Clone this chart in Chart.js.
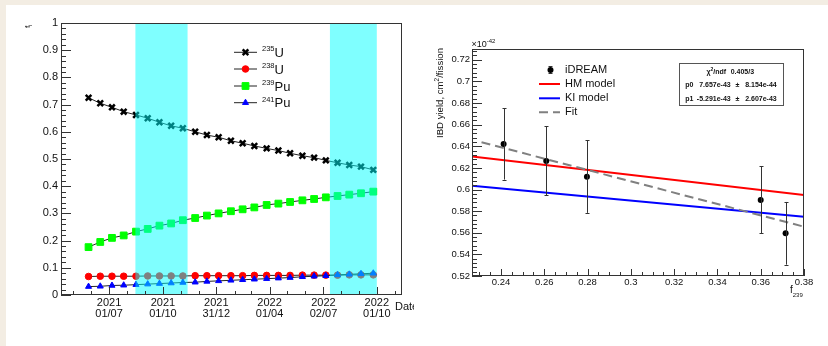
<!DOCTYPE html>
<html>
<head>
<meta charset="utf-8">
<script src="https://cdn.jsdelivr.net/npm/chart.js@4.4.1/dist/chart.umd.min.js"></script>
<style>
  body { margin: 0; background: #f3ede3; width: 828px; height: 346px; overflow: hidden; position: relative; }
  #card { position: absolute; left: 6px; top: 5px; width: 822px; height: 341px; background: #fff; }
  canvas { position: absolute; top: 0; }
  #fracChart { left: 0; }
  #yieldChart { left: 414px; }
</style>
</head>
<body>
<div id="card"></div>
<canvas id="fracChart" width="414" height="346"></canvas>
<canvas id="yieldChart" width="414" height="346"></canvas>
<script>
// ---- left panel: fission fractions vs date ----
const fracDates = ['2021-05-27','2021-06-16','2021-07-06','2021-07-26','2021-08-16','2021-09-05','2021-09-25',
  '2021-10-15','2021-11-04','2021-11-25','2021-12-15','2022-01-04','2022-01-25','2022-02-14','2022-03-06',
  '2022-03-27','2022-04-16','2022-05-06','2022-05-27','2022-06-16','2022-07-06','2022-07-26','2022-08-15',
  '2022-09-04','2022-09-25'];
const u235 = [0.725,0.705,0.690,0.674,0.662,0.650,0.635,0.622,0.613,0.600,0.588,0.580,0.567,0.558,0.548,
  0.539,0.531,0.521,0.512,0.505,0.495,0.486,0.478,0.472,0.460];
const u238 = [0.068,0.069,0.069,0.069,0.069,0.070,0.070,0.070,0.070,0.071,0.071,0.071,0.071,0.071,0.072,
  0.072,0.072,0.072,0.073,0.073,0.073,0.073,0.074,0.074,0.074];
const pu239 = [0.176,0.195,0.210,0.219,0.233,0.243,0.255,0.263,0.275,0.283,0.292,0.300,0.308,0.315,0.322,
  0.331,0.336,0.342,0.348,0.353,0.359,0.364,0.369,0.374,0.380];
const pu241 = [0.031,0.032,0.035,0.036,0.038,0.040,0.042,0.044,0.046,0.047,0.050,0.052,0.054,0.056,0.058,
  0.060,0.062,0.064,0.067,0.069,0.071,0.074,0.076,0.078,0.080];
const bands = [['2021-08-15','2021-11-12'], ['2022-07-13','2022-10-01']];
const dateTicks = ['2021-07-01','2021-10-01','2021-12-31','2022-04-01','2022-07-02','2022-10-01'];
const dateLabels = [['2021','01/07'],['2021','01/10'],['2021','31/12'],['2022','01/04'],['2022','02/07'],['2022','01/10']];
const monthTicks = ['2021-05-01','2021-06-01','2021-08-01','2021-09-01','2021-11-01','2021-12-01','2022-02-01',
  '2022-03-01','2022-05-01','2022-06-01','2022-08-01','2022-09-01','2022-11-01'];
const fracTicks = [0,0.1,0.2,0.3,0.4,0.5,0.6,0.7,0.8,0.9,1];
const fracLabels = ['0','0.1','0.2','0.3','0.4','0.5','0.6','0.7','0.8','0.9','1'];

// ---- right panel: IBD yield vs f239 ----
const f239 = [0.2412, 0.2609, 0.2797, 0.3600, 0.3715];
const ibdYield = [0.6422, 0.6265, 0.6119, 0.5904, 0.5595];
const ibdErr = [0.033, 0.032, 0.0335, 0.031, 0.029];
const hmLine = [[0.2266, 0.6305], [0.38, 0.595]];
const kiLine = [[0.2266, 0.6036], [0.38, 0.5749]];
const fitLine = [[0.231, 0.6438], [0.38, 0.5656]];
const yieldTicks = [0.52,0.54,0.56,0.58,0.6,0.62,0.64,0.66,0.68,0.7,0.72];
const yieldLabels = ['0.52','0.54','0.56','0.58','0.6','0.62','0.64','0.66','0.68','0.7','0.72'];
const fTicks = [0.24,0.26,0.28,0.3,0.32,0.34,0.36,0.38];
const fLabels = ['0.24','0.26','0.28','0.3','0.32','0.34','0.36','0.38'];

const FONT = '"Liberation Sans", Arial, sans-serif';
const day = s => { const [y, m, d] = s.split('-').map(Number); return (Date.UTC(y, m - 1, d) - Date.UTC(2021, 6, 1)) / 86400000; };

function rich(ctx, parts, x, y) {
  let cx = x;
  for (const [t, size, dy, bold] of parts) {
    ctx.font = (bold ? 'bold ' : '') + size + 'px ' + FONT;
    ctx.fillText(t, cx, y + (dy || 0));
    cx += ctx.measureText(t).width;
  }
  return cx - x;
}
function richWidth(ctx, parts) {
  let w = 0;
  for (const [t, size, , bold] of parts) { ctx.font = (bold ? 'bold ' : '') + size + 'px ' + FONT; w += ctx.measureText(t).width; }
  return w;
}
function frame(ctx, a) {
  ctx.strokeStyle = '#333'; ctx.lineWidth = 1;
  ctx.strokeRect(Math.round(a.left) + 0.5, Math.round(a.top) + 0.5, Math.round(a.right - a.left) - 1, Math.round(a.bottom - a.top) - 1);
}
function yTick(ctx, s, a, v, len) {
  const p = Math.round(s.getPixelForValue(v)) + 0.5;
  ctx.beginPath(); ctx.moveTo(a.left, p); ctx.lineTo(a.left + len, p); ctx.stroke();
}
function xTick(ctx, s, a, v, len) {
  const p = Math.round(s.getPixelForValue(v)) + 0.5;
  ctx.beginPath(); ctx.moveTo(p, a.bottom); ctx.lineTo(p, a.bottom - len); ctx.stroke();
}
function fixedTicks(vals, labels) {
  return {
    afterBuildTicks: s => { s.ticks = vals.map(v => ({ value: v })); },
    callback: (v, i) => labels[i]
  };
}

const fracDecor = {
  id: 'fracDecor',
  afterDatasetsDraw(chart) {
    const { ctx, chartArea: a, scales: { x } } = chart;
    ctx.save();
    ctx.fillStyle = 'rgba(0,255,255,0.5)';
    bands.forEach(([s, e]) => {
      const x0 = x.getPixelForValue(day(s)), x1 = x.getPixelForValue(day(e));
      ctx.fillRect(x0, a.top, x1 - x0, a.bottom - a.top);
    });
    ctx.restore();
  },
  afterDraw(chart) {
    const { ctx, chartArea: a, scales: { x, y } } = chart;
    ctx.save();
    frame(ctx, a);
    for (let i = 0; i <= 50; i++) yTick(ctx, y, a, i / 50, i % 5 === 0 ? 10 : 5);
    dateTicks.forEach(d => xTick(ctx, x, a, day(d), 8));
    monthTicks.forEach(d => xTick(ctx, x, a, day(d), 4));

    ctx.fillStyle = '#111'; ctx.textBaseline = 'alphabetic';
    rich(ctx, [['Date', 11]], 395, 310);
    // y title f_i
    ctx.save(); ctx.translate(30, 28); ctx.rotate(-Math.PI / 2);
    rich(ctx, [['f', 8], ['i', 5.5, 2]], 0, 0);
    ctx.restore();

    // legend
    const rows = [
      { iso: '235', el: 'U', style: 'crossRot', color: '#000', r: 4, bw: 2.5, y: 52.3 },
      { iso: '238', el: 'U', style: 'circle', color: '#ff0000', r: 3.3, bw: 1, y: 69 },
      { iso: '239', el: 'Pu', style: 'rect', color: '#00ff00', r: 4.8, bw: 1, y: 86 },
      { iso: '241', el: 'Pu', style: 'triangle', color: '#0000ff', r: 3.5, bw: 1, y: 102.7 }
    ];
    rows.forEach(r => {
      ctx.strokeStyle = '#222'; ctx.lineWidth = 1;
      ctx.beginPath(); ctx.moveTo(234, r.y); ctx.lineTo(257, r.y); ctx.stroke();
      ctx.fillStyle = r.color; ctx.strokeStyle = r.color; ctx.lineWidth = r.bw;
      Chart.helpers.drawPoint(ctx, { pointStyle: r.style, radius: r.r, rotation: 0, borderWidth: r.bw }, 245.5, r.y);
      ctx.fillStyle = '#111';
      rich(ctx, [[r.iso, 7.5, -5.5], [r.el, 13, 0]], 262, r.y + 4.5);
    });
    ctx.restore();
  }
};

function fracSet(label, vals, style, color, r, bw) {
  return {
    label, data: fracDates.map((d, i) => ({ x: day(d), y: vals[i] })),
    showLine: true, borderColor: '#222', borderWidth: 1,
    pointStyle: style, pointRadius: r, pointBackgroundColor: color, pointBorderColor: color, pointBorderWidth: bw
  };
}

new Chart(document.getElementById('fracChart'), {
  type: 'scatter',
  data: {
    datasets: [
      fracSet('241Pu', pu241, 'triangle', '#0000ff', 3.5, 1),
      fracSet('239Pu', pu239, 'rect', '#00ff00', 4.8, 1),
      fracSet('238U', u238, 'circle', '#ff0000', 3.3, 1),
      fracSet('235U', u235, 'crossRot', '#000000', 4, 2.5)
    ]
  },
  options: {
    responsive: false, animation: false, devicePixelRatio: 1,
    layout: { padding: { top: 23, right: 12, left: 0, bottom: 0 } },
    plugins: { legend: { display: false }, tooltip: { enabled: false } },
    scales: {
      x: {
        type: 'linear', min: -82, max: 500,
        grid: { display: false, drawTicks: false }, border: { display: false },
        afterBuildTicks: s => { s.ticks = dateTicks.map(d => ({ value: day(d) })); },
        afterFit: s => { s.height = 51; },
        ticks: { autoSkip: false, maxRotation: 0, minRotation: 0, padding: 2, color: '#111',
          font: { family: FONT, size: 11, lineHeight: 1.05 }, callback: (v, i) => dateLabels[i] }
      },
      y: {
        min: 0, max: 1,
        grid: { display: false, drawTicks: false }, border: { display: false },
        afterBuildTicks: fixedTicks(fracTicks, fracLabels).afterBuildTicks,
        afterFit: s => { s.width = 61; },
        ticks: { autoSkip: false, padding: 3, color: '#111', font: { family: FONT, size: 11 },
          callback: fixedTicks(fracTicks, fracLabels).callback }
      }
    }
  },
  plugins: [fracDecor]
});

const yieldDecor = {
  id: 'yieldDecor',
  afterDatasetsDraw(chart) {
    const { ctx, scales: { x, y } } = chart;
    ctx.save();
    ctx.strokeStyle = '#333'; ctx.lineWidth = 1;
    f239.forEach((f, i) => {
      const px = Math.round(x.getPixelForValue(f)) + 0.5;
      const y0 = y.getPixelForValue(ibdYield[i] - ibdErr[i]);
      const y1 = y.getPixelForValue(ibdYield[i] + ibdErr[i]);
      ctx.beginPath();
      ctx.moveTo(px, y0); ctx.lineTo(px, y1);
      ctx.moveTo(px - 2, Math.round(y0) + 0.5); ctx.lineTo(px + 2, Math.round(y0) + 0.5);
      ctx.moveTo(px - 2, Math.round(y1) + 0.5); ctx.lineTo(px + 2, Math.round(y1) + 0.5);
      ctx.stroke();
    });
    ctx.restore();
  },
  afterDraw(chart) {
    const { ctx, chartArea: a, scales: { x, y } } = chart;
    const ox = 414;
    ctx.save();
    frame(ctx, a);
    for (let i = 0; i <= 52; i++) yTick(ctx, y, a, 0.52 + i * 0.004, i % 5 === 0 ? 10 : 5);
    for (let i = 0; i <= 30; i++) xTick(ctx, x, a, 0.23 + i * 0.005, i % 4 === 2 ? 7 : 4);

    ctx.fillStyle = '#111'; ctx.textBaseline = 'alphabetic';
    rich(ctx, [['\u00d710', 9], ['-42', 6, -4]], 471.5 - ox, 47);
    rich(ctx, [['f', 10], ['239', 6, 4]], 790 - ox, 293);

    // y title
    const title = [['IBD yield, cm', 9.6], ['2', 6.5, -4], ['/fission', 9.6]];
    ctx.save(); ctx.translate(443 - ox, 93); ctx.rotate(-Math.PI / 2);
    rich(ctx, title, -richWidth(ctx, title) / 2, 0);
    ctx.restore();

    // legend
    const lx = 539 - ox, tx = 565 - ox;
    ctx.strokeStyle = '#333'; ctx.lineWidth = 1;
    ctx.beginPath();
    ctx.moveTo(550.5 - ox, 66); ctx.lineTo(550.5 - ox, 74);
    ctx.moveTo(548.5 - ox, 66.5); ctx.lineTo(552.5 - ox, 66.5);
    ctx.moveTo(548.5 - ox, 73.5); ctx.lineTo(552.5 - ox, 73.5);
    ctx.stroke();
    ctx.fillStyle = '#000';
    ctx.beginPath(); ctx.arc(550.5 - ox, 70, 3, 0, Math.PI * 2); ctx.fill();
    const lrows = [['#ff0000', [], 84], ['#0000ff', [], 98.3], ['#808080', [9, 5], 112.3]];
    lrows.forEach(([c, dash, ly]) => {
      ctx.strokeStyle = c; ctx.lineWidth = 2; ctx.setLineDash(dash);
      ctx.beginPath(); ctx.moveTo(lx, ly); ctx.lineTo(560 - ox, ly); ctx.stroke();
    });
    ctx.setLineDash([]);
    ctx.fillStyle = '#111'; ctx.textBaseline = 'middle';
    ctx.font = '11px ' + FONT;
    [['iDREAM', 70], ['HM model', 84], ['KI model', 98.3], ['Fit', 112.3]].forEach(([t, ly]) => ctx.fillText(t, tx, ly));

    // stats box
    ctx.fillStyle = '#fff'; ctx.fillRect(679 - ox, 63, 105, 43);
    ctx.strokeStyle = '#555'; ctx.lineWidth = 1;
    ctx.strokeRect(679.5 - ox, 63.5, 104, 42);
    ctx.fillStyle = '#111'; ctx.textBaseline = 'alphabetic';
    rich(ctx, [['\u03c7', 7, 0, true], ['2', 5, -3, true], ['/ndf', 7, 0, true]], 706.5 - ox, 73.5);
    rich(ctx, [['0.405/3', 7, 0, true]], 730.7 - ox, 73.5);
    ctx.font = 'bold 7px ' + FONT;
    [['p0', '7.657e-43', '8.154e-44', 87.3], ['p1', '-5.291e-43', '2.607e-43', 101.3]].forEach(([n, v, e, by]) => {
      ctx.textAlign = 'left'; ctx.fillText(n, 685.3 - ox, by);
      ctx.textAlign = 'right'; ctx.fillText(v, 730.7 - ox, by); ctx.fillText(e, 776.7 - ox, by);
      ctx.textAlign = 'center'; ctx.fillText('\u00b1', 737.5 - ox, by);
    });
    ctx.restore();
  }
};

const pts = arr => arr.map(([x, y]) => ({ x, y }));
new Chart(document.getElementById('yieldChart'), {
  type: 'scatter',
  data: {
    datasets: [
      { label: 'iDREAM', data: f239.map((f, i) => ({ x: f, y: ibdYield[i] })),
        pointRadius: 3, pointBackgroundColor: '#000', pointBorderColor: '#000', pointBorderWidth: 0 },
      { label: 'Fit', data: pts(fitLine), showLine: true, borderColor: '#808080', borderWidth: 2,
        borderDash: [9, 5], pointRadius: 0 },
      { label: 'KI model', data: pts(kiLine), showLine: true, borderColor: '#0000ff', borderWidth: 2, pointRadius: 0 },
      { label: 'HM model', data: pts(hmLine), showLine: true, borderColor: '#ff0000', borderWidth: 2, pointRadius: 0 }
    ]
  },
  options: {
    responsive: false, animation: false, devicePixelRatio: 1,
    layout: { padding: { top: 49, right: 24, left: 0, bottom: 0 } },
    plugins: { legend: { display: false }, tooltip: { enabled: false } },
    scales: {
      x: {
        type: 'linear', min: 0.2266, max: 0.38,
        grid: { display: false, drawTicks: false }, border: { display: false },
        afterBuildTicks: fixedTicks(fTicks, fLabels).afterBuildTicks,
        afterFit: s => { s.height = 70; },
        ticks: { autoSkip: false, maxRotation: 0, minRotation: 0, padding: 1, color: '#111',
          font: { family: FONT, size: 9.5 }, callback: fixedTicks(fTicks, fLabels).callback }
      },
      y: {
        min: 0.52, max: 0.73,
        grid: { display: false, drawTicks: false }, border: { display: false },
        afterBuildTicks: fixedTicks(yieldTicks, yieldLabels).afterBuildTicks,
        afterFit: s => { s.width = 58; },
        ticks: { autoSkip: false, padding: 2, color: '#111', font: { family: FONT, size: 9.5 },
          callback: fixedTicks(yieldTicks, yieldLabels).callback }
      }
    }
  },
  plugins: [yieldDecor]
});
</script>
</body>
</html>
